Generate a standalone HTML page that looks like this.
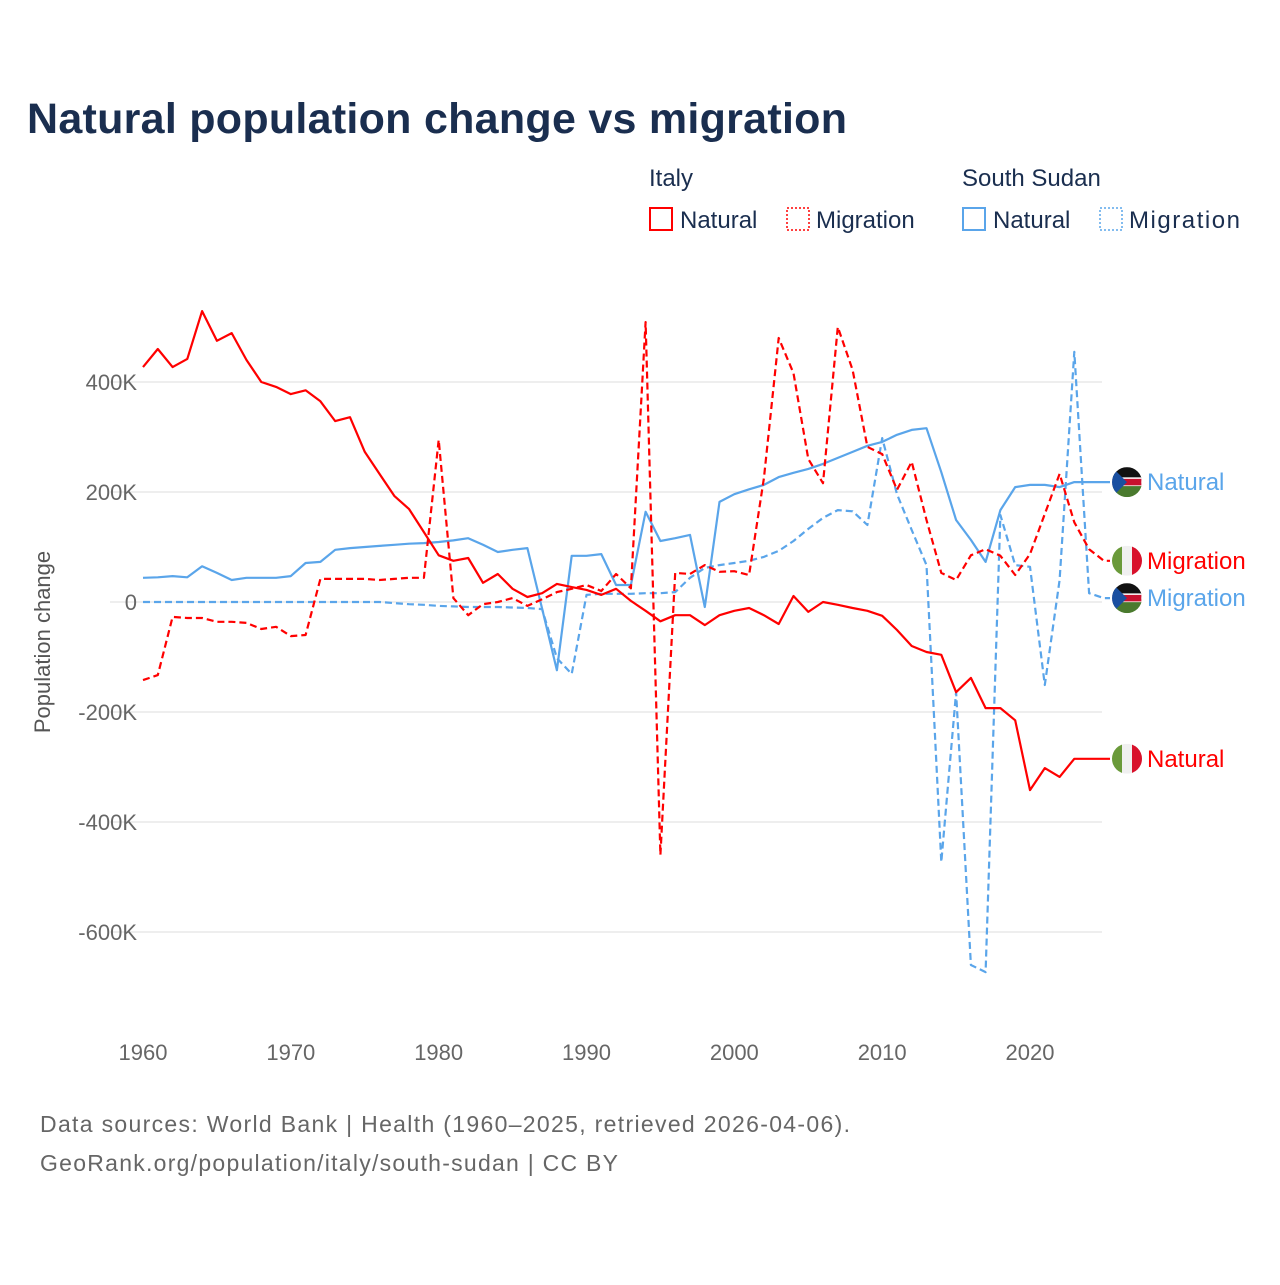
<!DOCTYPE html>
<html><head><meta charset="utf-8"><style>
body{margin:0;background:#fff;width:1280px;height:1280px;overflow:hidden;font-family:"Liberation Sans",sans-serif}
svg text{font-family:"Liberation Sans",sans-serif}
</style></head><body>
<svg id="chart" width="1280" height="1280">
<text x="27" y="133" font-size="43" font-weight="bold" fill="#1a2e4f" textLength="820">Natural population change vs migration</text>
<g font-size="24" fill="#1a2e4f">
<text x="649" y="186">Italy</text>
<text x="962" y="186">South Sudan</text>
<g><rect x="650" y="208" width="22" height="22" fill="none" stroke="#ff0000" stroke-width="2"/><text x="680" y="228">Natural</text></g>
<g><rect x="787" y="208" width="22" height="22" fill="none" stroke="#ff0000" stroke-width="1.5" stroke-dasharray="2,2"/><text x="816" y="228">Migration</text></g>
<g><rect x="963" y="208" width="22" height="22" fill="none" stroke="#5aa5ea" stroke-width="2"/><text x="993" y="228">Natural</text></g>
<g><rect x="1100" y="208" width="22" height="22" fill="none" stroke="#5aa5ea" stroke-width="1.5" stroke-dasharray="2,2"/><text x="1129" y="228" textLength="111">Migration</text></g>
</g>
<g id="grid"></g><g id="lines"></g><g id="labels"></g>
<text transform="translate(50,642) rotate(-90)" text-anchor="middle" font-size="22" fill="#555">Population change</text>
<text x="40" y="1132" font-size="23" fill="#666" textLength="810">Data sources: World Bank | Health (1960–2025, retrieved 2026-04-06).</text>
<text x="40" y="1171" font-size="23" fill="#666" textLength="578">GeoRank.org/population/italy/south-sudan | CC BY</text>
</svg>
<script>
const years=[];for(let y=1960;y<=2025;y++)years.push(y);
const yTicks=[400,200,0,-200,-400,-600];
const yTickLabels=["400K","200K","0","-200K","-400K","-600K"];
const xTicks=[1960,1970,1980,1990,2000,2010,2020];
const italyNatural=[427,460,427,442,529,475,489,440,400,391,378,385,365,329,336,273,233,193,169,127,85,75,80,35,51,24,9,16,33,27,22,13,24,2,-16,-35,-24,-24,-42,-24,-16,-11,-24,-40,11,-18,0,-5,-11,-16,-25,-51,-80,-91,-96,-164,-138,-193,-193,-215,-342,-302,-318,-285,-285,-285];
const italyMigration=[-142,-133,-27,-29,-29,-36,-36,-38,-49,-45,-62,-60,42,42,42,42,40,42,44,44,295,7,-24,-4,0,7,-7,5,18,24,31,20,51,25,509,-460,53,51,67,55,56,49,225,480,416,260,216,500,422,282,269,204,255,149,53,40,85,96,84,49,87,160,233,145,96,75];
const ssNatural=[44,45,47,45,65,53,40,44,44,44,47,71,73,95,98,100,102,104,106,107,109,112,116,104,91,95,98,-12,-124,84,84,87,31,31,164,111,116,122,-9,182,196,205,213,227,235,242,251,262,273,284,291,304,313,316,236,149,113,73,167,209,213,213,209,218,218,218];
const ssMigration=[0,0,0,0,0,0,0,0,0,0,0,0,0,0,0,0,0,-2,-4,-5,-7,-8,-9,-9,-9,-10,-11,-13,-102,-131,13,15,15,15,16,16,18,44,62,67,71,75,82,93,111,133,153,167,165,140,298,196,131,67,-473,-164,-660,-673,158,67,64,-151,40,455,16,7];
const NS="http://www.w3.org/2000/svg";
const X=y=>143+(y-1960)*887/60;
const Y=v=>602-v*110/200;
function mk(tag,attrs,parent){const e=document.createElementNS(NS,tag);for(const k in attrs)e.setAttribute(k,attrs[k]);parent.appendChild(e);return e;}
const grid=document.getElementById('grid');
yTicks.forEach((t,i)=>{
 const l=mk('line',{x1:110,x2:1102,y1:Y(t),y2:Y(t),stroke:'#e8e8e8','stroke-width':1.5},grid);
 
 
 const tx=mk('text',{x:137,y:Y(t)+8,'text-anchor':'end','font-size':22,fill:'#666'},grid);
 tx.textContent=yTickLabels[i];
 
 
});
xTicks.forEach(t=>{
 const tx=mk('text',{x:X(t),y:1060,'text-anchor':'middle','font-size':22,fill:'#666'},grid);
 tx.textContent=t;
 
 
});
const lines=document.getElementById('lines');
const series=[[ssNatural,'#5aa5ea',null,'ss-natural-line'],[ssMigration,'#5aa5ea','7,4','ss-migration-line'],[italyMigration,'#ff0000','7,4','italy-migration-line'],[italyNatural,'#ff0000',null,'italy-natural-line']];
series.forEach(s=>{
 const d=s[0].map((v,i)=>(i?'L':'M')+X(years[i]).toFixed(1)+','+Y(v).toFixed(1)).join('')+'L1110,'+Y(s[0][s[0].length-1]).toFixed(1);
 const p=mk('path',{d:d,fill:'none',stroke:s[1],'stroke-width':2.2,'stroke-linejoin':'round'},lines);
 if(s[2])p.setAttribute('stroke-dasharray',s[2]);
 
 
});
const labels=document.getElementById('labels');
const labs=[[ssNatural,'Natural','#5aa5ea','ss'],[italyMigration,'Migration','#ff0000','it'],[ssMigration,'Migration','#5aa5ea','ss'],[italyNatural,'Natural','#ff0000','it']];
labs.forEach(L=>{
 let y=Y(L[0][L[0].length-1]);
 const g=mk('g',{},labels);
 
 
 const cx=1127;
 const cp=mk('clipPath',{id:'c'+Math.round(y)},g);mk('circle',{cx:cx,cy:y,r:15},cp);
 const f=mk('g',{'clip-path':'url(#c'+Math.round(y)+')'},g);
 if(L[3]==='it'){
  mk('rect',{x:cx-15,y:y-15,width:10,height:30,fill:'#6a9a3a'},f);
  mk('rect',{x:cx-5,y:y-15,width:10,height:30,fill:'#f0f0f0'},f);
  mk('rect',{x:cx+5,y:y-15,width:10,height:30,fill:'#d8112b'},f);
 }else{
  mk('rect',{x:cx-15,y:y-15,width:30,height:11,fill:'#111'},f);
  mk('rect',{x:cx-15,y:y-4,width:30,height:8,fill:'#c8102e',stroke:'#fff','stroke-width':1.5},f);
  mk('rect',{x:cx-15,y:y+4,width:30,height:11,fill:'#4a7a2e'},f);
  mk('polygon',{points:(cx-15)+','+(y-15)+' '+(cx)+','+y+' '+(cx-15)+','+(y+15),fill:'#1a4fa0'},f);
 }
 const t=mk('text',{x:1147,y:y+8,'font-size':24,fill:L[2]},g);t.textContent=L[1];
});
</script>
</body></html>
